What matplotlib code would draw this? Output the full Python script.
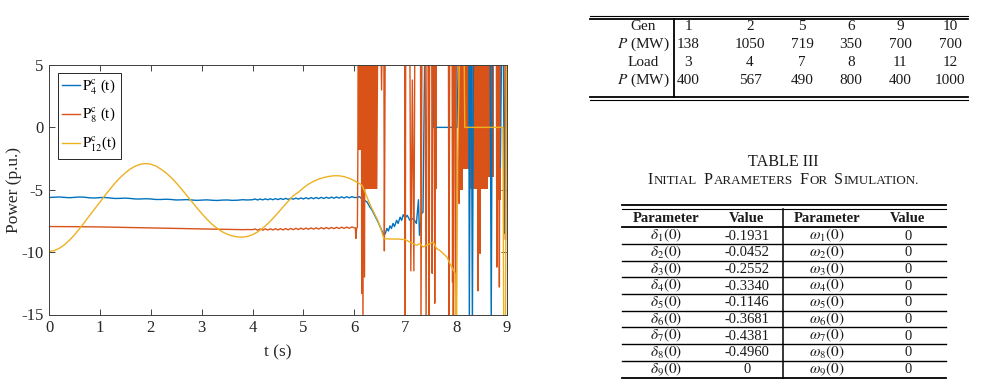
import matplotlib
matplotlib.use('Agg')
import matplotlib.pyplot as plt
from matplotlib.offsetbox import TextArea, HPacker, AnnotationBbox

plt.rcParams['font.family'] = ['Liberation Serif', 'DejaVu Serif']
plt.rcParams['mathtext.fontset'] = 'stix'
plt.rcParams['axes.unicode_minus'] = False

# ---------------- chart data ----------------
t_p4 = [0.0, 0.1, 0.2, 0.3, 0.4, 0.5, 0.6, 0.7, 0.8, 0.9, 1.0, 1.1, 1.2, 1.3, 1.4, 1.5, 1.6, 1.7, 1.8, 1.9,
        2.0, 2.1, 2.2, 2.3, 2.4, 2.5, 2.6, 2.7, 2.8, 2.9, 3.0, 3.1, 3.2, 3.3, 3.4, 3.5, 3.6, 3.7, 3.8, 3.9, 4.0,
        4.05, 4.10, 4.15, 4.20, 4.25, 4.30, 4.35, 4.40, 4.45, 4.50, 4.55, 4.60, 4.65, 4.70, 4.75, 4.80, 4.85,
        4.90, 4.95, 5.00, 5.05, 5.10, 5.15, 5.20, 5.25, 5.30, 5.35, 5.40, 5.45, 5.50, 5.55, 5.60, 5.65, 5.70,
        5.75, 5.80, 5.85, 5.90, 5.95, 6.00,
        6.05, 6.10, 6.15, 6.20, 6.25, 6.30, 6.35, 6.40, 6.45, 6.50, 6.55, 6.58, 6.61, 6.64, 6.67, 6.70, 6.73,
        6.76, 6.79, 6.83, 6.86, 6.90, 6.93, 6.96, 7.00, 7.04, 7.09, 7.16, 7.22, 7.26, 7.28, 7.32, 7.35, 7.38,
        7.55, 7.56, 8.02, 8.04, 8.25, 8.26, 8.28, 8.30, 8.32, 8.34, 8.67, 8.69, 8.71, 8.85, 8.87, 8.89, 8.93,
        8.95, 8.97, 9.0]
p4 = [-5.62, -5.60, -5.58, -5.61, -5.64, -5.61, -5.58, -5.60, -5.65, -5.66, -5.63, -5.62, -5.66, -5.70,
      -5.69, -5.67, -5.70, -5.74, -5.74, -5.72, -5.74, -5.78, -5.78, -5.76, -5.78, -5.82, -5.81, -5.79, -5.82,
      -5.85, -5.83, -5.81, -5.84, -5.86, -5.83, -5.82, -5.85, -5.84, -5.80, -5.82, -5.80,
      -5.74, -5.82, -5.74, -5.81, -5.73, -5.80, -5.72, -5.80, -5.71, -5.79, -5.70, -5.78, -5.69, -5.77, -5.68,
      -5.76, -5.67, -5.75, -5.66, -5.74, -5.64, -5.73, -5.63, -5.72, -5.62, -5.71, -5.61, -5.70, -5.60, -5.69,
      -5.59, -5.68, -5.58, -5.67, -5.57, -5.66, -5.56, -5.65, -5.55, -5.62,
      -5.62, -5.55, -5.75, -5.85, -5.98, -6.35, -6.65, -7.05, -7.45, -7.90, -8.35, -8.65, -8.50, -8.10, -8.30,
      -7.90, -8.10, -7.70, -7.95, -7.45, -7.70, -7.20, -7.45, -7.00, -7.25, -7.05, -7.45, -7.30, -7.70, -5.80,
      -8.65, -6.90, -6.80, 5.0, 5.0, 0.0, 0.0, 5.0, 5.0, -16.0, 5.0, 5.0, -16.0, 5.0, 5.0, -16.0, 5.0, 5.0,
      -3.2, 5.0, 5.0, -8.5, 5.0, 5.0]

t_p8 = [0.0, 0.5, 1.0, 1.5, 2.0, 2.5, 3.0, 3.5, 3.6, 3.7, 3.8, 3.9, 4.0,
        4.05, 4.10, 4.15, 4.20, 4.25, 4.30, 4.35, 4.40, 4.45, 4.50, 4.55, 4.60, 4.65, 4.70, 4.75, 4.80, 4.85,
        4.90, 4.95, 5.00, 5.05, 5.10, 5.15, 5.20, 5.25, 5.30, 5.35, 5.40, 5.45, 5.50, 5.55, 5.60, 5.65, 5.70,
        5.75, 5.80, 5.85, 5.90, 5.95, 6.00,
        6.02, 6.03, 6.045, 6.06, 6.07, 6.075, 6.14, 6.145, 6.15, 6.17, 6.18, 6.20, 6.21, 6.44, 6.46, 6.52, 6.535,
        6.55, 6.58, 6.59, 6.605, 6.99, 7.00, 7.01, 7.09, 7.11, 7.14, 7.17, 7.19, 7.30, 7.31, 7.33, 7.39, 7.41,
        7.43, 7.46, 7.47, 7.48, 7.52, 7.53, 7.545, 7.57, 7.58, 7.595, 7.64, 7.85, 7.86, 7.875, 7.92, 7.93,
        7.94, 7.945, 7.96, 7.98, 7.99, 8.005, 8.05, 8.06, 8.07, 8.42, 8.43, 8.44, 8.46, 8.47, 8.48, 8.79,
        8.80, 8.81, 8.84, 8.85, 8.86, 8.96, 8.97, 8.98, 9.0]
p8 = [-7.95, -7.96, -7.98, -8.02, -8.06, -8.10, -8.14, -8.17, -8.18, -8.19, -8.20, -8.19, -8.20,
      -8.14, -8.24, -8.14, -8.24, -8.13, -8.23, -8.13, -8.23, -8.12, -8.22, -8.12, -8.22, -8.11, -8.21, -8.10,
      -8.20, -8.09, -8.19, -8.08, -8.18, -8.07, -8.17, -8.06, -8.16, -8.05, -8.15, -8.04, -8.14, -8.03, -8.13,
      -8.02, -8.12, -8.01, -8.11, -8.00, -8.10, -7.99, -8.09, -7.98, -8.05,
      -8.05, -8.90, -8.10, -8.00, -1.8, 8.0, 8.0, -13.3, 8.0, -16.0, 8.0, -12.0, 8.0, -4.9, 8.0, 8.0, 3.0,
      8.0, 8.0, -9.9, 5.0, 5.0, -16.0, 8.0, 8.0, -11.5, 3.8, -11.5, 8.0, 8.0, -16.0, 8.0, 8.0, -16.0,
      8.0, 8.0, -16.0, 8.0, 8.0, -11.7, 8.0, 8.0, -14.1, 8.0, 5.0, 5.0, -16.0, 8.0, 8.0, -12.4,
      8.0, -16.0, 8.0, 8.0, -16.0, 8.0, 8.0, -6.1, 8.0, 8.0, -13.1, 8.0, 8.0, -10.1, 8.0, 8.0,
      -11.2, 8.0, 8.0, -12.8, 8.0, 8.0, -9.0, 8.0, 8.0]

# dense oscillation blocks of P8 (start time, end time, lower edge, upper edge)
p8_band_start = [6.07, 6.14, 7.58, 8.07, 8.13, 8.27, 8.63, 8.78]
p8_band_end = [6.14, 6.44, 7.63, 8.13, 8.27, 8.63, 8.74, 8.88]
p8_band_lo = [-1.8, -4.9, -4.9, -5.0, -3.3, -4.9, -4.0, -5.8]
p8_band_hi = [8.0, 8.0, 8.0, 8.0, 8.0, 8.0, 8.0, 8.0]

t_p12 = [0.0, 0.1, 0.2, 0.3, 0.4, 0.5, 0.6, 0.7, 0.8, 0.9, 1.0, 1.1, 1.2, 1.3, 1.4, 1.5, 1.6, 1.7, 1.8, 1.9,
         2.0, 2.1, 2.2, 2.3, 2.4, 2.5, 2.6, 2.7, 2.8, 2.9, 3.0, 3.1, 3.2, 3.3, 3.4, 3.5, 3.6, 3.7, 3.8, 3.9,
         4.0, 4.1, 4.2, 4.3, 4.4, 4.5, 4.6, 4.7, 4.8, 4.9, 5.0, 5.1, 5.2, 5.3, 5.4, 5.5, 5.6, 5.7, 5.8, 5.9,
         6.0, 6.10, 6.15, 6.21, 6.27, 6.33, 6.40, 6.46, 6.52, 6.58, 6.70, 6.85, 7.00, 7.09, 7.16, 7.22, 7.29,
         7.35, 7.42, 7.49, 7.55, 7.62, 7.68, 7.75, 7.82, 7.88, 7.95, 7.98, 7.99, 8.01, 8.03, 8.07, 8.10, 8.16,
         8.17, 8.92, 8.935, 8.97, 8.99, 9.0]
p12 = [-9.95, -9.88, -9.70, -9.42, -9.05, -8.62, -8.12, -7.60, -7.05, -6.52, -6.00, -5.45, -4.95, -4.45,
       -4.02, -3.65, -3.33, -3.10, -2.95, -2.90, -2.95, -3.10, -3.35, -3.65, -4.02, -4.45, -4.92, -5.42,
       -5.92, -6.42, -6.90, -7.35, -7.75, -8.08, -8.36, -8.56, -8.70, -8.78, -8.80, -8.74, -8.60, -8.38,
       -8.08, -7.72, -7.30, -6.85, -6.38, -5.92, -5.48, -5.20, -4.85, -4.55, -4.32, -4.15, -4.02, -3.93,
       -3.88, -3.88, -3.95, -4.08, -4.28, -4.50, -4.64, -5.17, -5.80, -6.38, -6.95, -7.45, -8.10, -8.92,
       -8.95, -8.95, -9.00, -9.19, -9.32, -9.45, -9.32, -9.59, -9.45, -9.32, -9.19, -9.73, -9.86, -10.13,
       -10.40, -10.93, -11.47, -11.70, -16.0, -16.0, -2.9, 7.0, 5.0, 5.0, 0.0, 0.0, -16.0, -16.0, 7.0, 7.0]

legend_labels = [r'$\mathrm{P}^{\mathrm{c}}_{4}$ (t)', r'$\mathrm{P}^{\mathrm{c}}_{8}$ (t)',
                 r'$\mathrm{P}^{\mathrm{c}}_{12}$(t)']
x_ticks = [0, 1, 2, 3, 4, 5, 6, 7, 8, 9]
y_ticks = [-15, -10, -5, 0, 5]

# ---------------- table data ----------------
gen_ids = ['1', '2', '5', '6', '9', '10']
gen_p = ['138', '1050', '719', '350', '700', '700']
load_ids = ['3', '4', '7', '8', '11', '12']
load_p = ['400', '567', '490', '800', '400', '1000']

delta_names = [r'$\delta_{%d}(0)$' % i for i in range(1, 10)]
delta_vals = ['-0.1931', '-0.0452', '-0.2552', '-0.3340', '-0.1146', '-0.3681', '-0.4381', '-0.4960', '0']
omega_names = [r'$\omega_{%d}(0)$' % i for i in range(1, 10)]
omega_vals = ['0', '0', '0', '0', '0', '0', '0', '0', '0']

C_BLUE, C_ORANGE, C_YELLOW = '#0072BD', '#D95319', '#EDB120'
TXT = '#1a1a1a'

W, H = 984, 379
fig = plt.figure(figsize=(W / 100, H / 100), dpi=100)

# overlay axes in pixel coordinates for the tables
ov = fig.add_axes([0, 0, 1, 1])
ov.set_xlim(0, W)
ov.set_ylim(H, 0)
ov.axis('off')

# ---- Table 1 ----
t1_x0, t1_x1 = 590, 968
ov.plot([t1_x0, t1_x1], [16, 16], color='k', lw=0.8)
ov.plot([t1_x0, t1_x1], [18.5, 18.5], color='k', lw=1.3)
ov.plot([t1_x0, t1_x1], [97, 97], color='k', lw=1.3)
ov.plot([t1_x0, t1_x1], [100, 100], color='k', lw=0.8)
ov.plot([674, 674], [18.5, 97], color='k', lw=1.3)
col1 = [688, 750, 802, 851, 900, 950]
rows1_base = [30.5, 47.5, 65.5, 83.8]
labels1 = ['Gen', r'$P$ (MW)', 'Load', r'$P$ (MW)']
data1 = [gen_ids, gen_p, load_ids, load_p]
for yy, lab, vals in zip(rows1_base, labels1, data1):
    ov.text(643, yy, lab, ha='center', va='baseline', fontsize=11, color=TXT)
    for xx, v in zip(col1, vals):
        ov.text(xx, yy, v, ha='center', va='baseline', fontsize=11, color=TXT)

# ---- Table III caption ----
ov.text(783.5, 166.5, 'TABLE III', ha='center', va='baseline', fontsize=11.6, color=TXT)
big, small = 11.6, 9.4
words = [('I', 'NITIAL'), ('P', 'ARAMETERS'), ('F', 'OR'), ('S', 'IMULATION.')]
word_boxes = []
for b, s in words:
    word_boxes.append(HPacker(children=[TextArea(b, textprops=dict(fontsize=big, color=TXT)),
                                        TextArea(s, textprops=dict(fontsize=small, color=TXT))],
                              align='baseline', pad=0, sep=0.5))
cap = HPacker(children=word_boxes, align='baseline', pad=0, sep=5)
ab = AnnotationBbox(cap, (783.5, 179.5), xycoords='data', frameon=False, box_alignment=(0.5, 0.5))
ov.add_artist(ab)

# ---- Table 2 ----
t2_x0, t2_x1 = 622, 946
ov.plot([t2_x0, t2_x1], [205, 205], color='k', lw=1.3)
ov.plot([t2_x0, t2_x1], [209, 209], color='k', lw=0.8)
ov.plot([t2_x0, t2_x1], [227, 227], color='k', lw=1.3)
row_sep = [244, 260.7, 277.3, 294, 310.7, 327.3, 344, 360.7]
for yy in row_sep:
    ov.plot([t2_x0, t2_x1], [yy, yy], color='k', lw=1.0)
ov.plot([t2_x0, t2_x1], [378, 378], color='k', lw=1.3)
ov.plot([783, 783], [209, 379], color='k', lw=1.1)
col2 = [666, 747, 827, 908]
hdr = ['Parameter', 'Value', 'Parameter', 'Value']
for xx, h in zip(col2, hdr):
    ov.text(xx, 222.5, h, ha='center', va='baseline', fontsize=10.5, fontweight='bold', color=TXT)
for i in range(9):
    yy = 239.5 + i * 16.67
    ov.text(col2[0], yy, delta_names[i], ha='center', va='baseline', fontsize=11, color=TXT)
    ov.text(col2[1], yy, delta_vals[i], ha='center', va='baseline', fontsize=10.5, color=TXT)
    ov.text(col2[2], yy, omega_names[i], ha='center', va='baseline', fontsize=11, color=TXT)
    ov.text(col2[3], yy, omega_vals[i], ha='center', va='baseline', fontsize=10.5, color=TXT)

# ---------------- chart ----------------
ax = fig.add_axes([49 / W, (H - 314.5) / H, 458 / W, 249.5 / H])
l4, = ax.plot(t_p4, p4, color=C_BLUE, lw=1.0)
for a, b, lo, hi in zip(p8_band_start, p8_band_end, p8_band_lo, p8_band_hi):
    ax.fill_between([a, b], [lo, lo], [hi, hi], color=C_ORANGE, lw=0)
l8, = ax.plot(t_p8, p8, color=C_ORANGE, lw=1.0)
l12, = ax.plot(t_p12, p12, color=C_YELLOW, lw=1.0)
ax.set_xlim(0, 9)
ax.set_ylim(-15, 5)
ax.set_xticks(x_ticks)
ax.set_yticks(y_ticks)
ax.tick_params(direction='in', top=True, right=True, length=4, width=0.6, labelsize=12,
               colors='#262626', pad=4)
for sp in ax.spines.values():
    sp.set_color('#404040')
    sp.set_linewidth(0.7)
ax.set_xlabel('t (s)', fontsize=12.5, color='#262626')
ax.set_ylabel('Power (p.u.)', fontsize=12.5, color='#262626')
ax.xaxis.set_label_coords(0.5, -0.118)
ax.yaxis.set_label_coords(-0.058, 0.5)
leg = ax.legend([l4, l8, l12], legend_labels, loc='upper left', bbox_to_anchor=(0.0197, 0.968),
                borderaxespad=0, fancybox=False, framealpha=1, edgecolor='#262626', fontsize=10.6,
                handlelength=1.2, handletextpad=0.15, labelspacing=0.65, borderpad=0.3)
leg.get_frame().set_linewidth(0.7)

fig.savefig('out.png', dpi=100)
